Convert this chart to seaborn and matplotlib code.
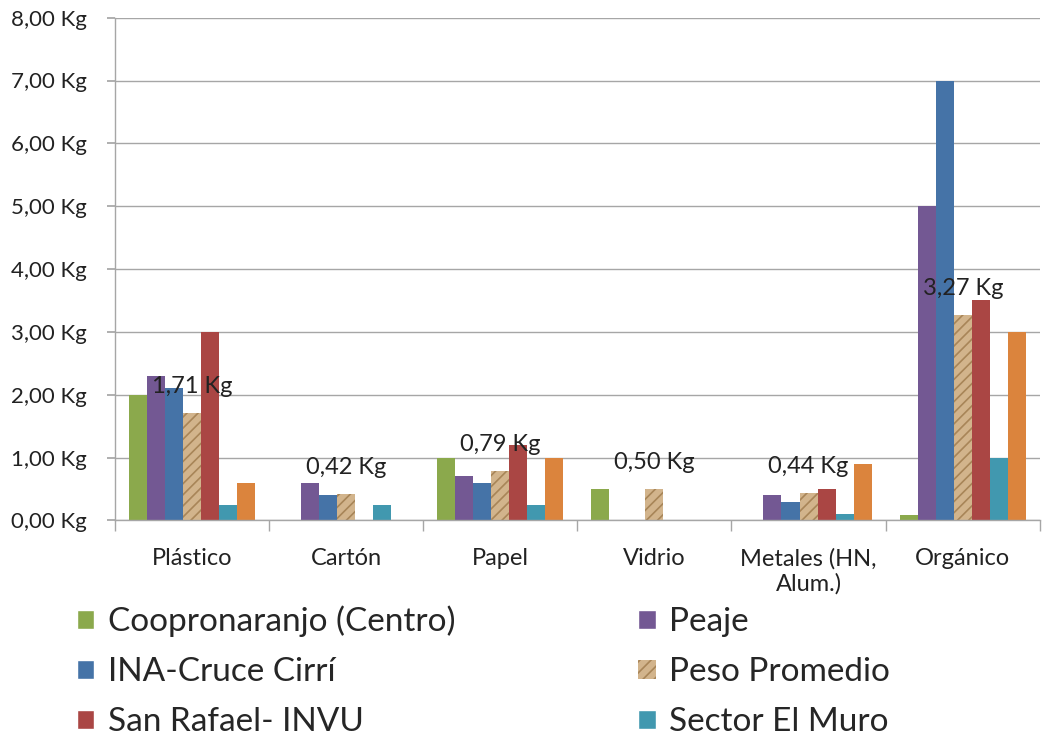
import matplotlib
matplotlib.use("Agg")
import matplotlib.pyplot as plt
import seaborn as sns
import pandas as pd
from matplotlib.patches import Patch
from matplotlib.ticker import FuncFormatter, FixedLocator

categories = ["Plástico", "Cartón", "Papel", "Vidrio", "Metales (HN,\nAlum.)", "Orgánico"]
series_names = ["Coopronaranjo (Centro)", "Peaje", "INA-Cruce Cirrí", "Peso Promedio",
                "San Rafael- INVU", "Sector El Muro", "Otro"]
coopronaranjo = [2.0, 0.0, 1.0, 0.5, 0.0, 0.08]
peaje = [2.3, 0.6, 0.7, 0.0, 0.4, 5.0]
ina_cruce = [2.1, 0.4, 0.6, 0.0, 0.3, 7.0]
peso_promedio = [1.71, 0.42, 0.79, 0.50, 0.44, 3.27]
san_rafael = [3.0, 0.0, 1.2, 0.0, 0.5, 3.5]
sector_muro = [0.25, 0.25, 0.25, 0.0, 0.1, 1.0]
otro = [0.6, 0.0, 1.0, 0.0, 0.9, 3.0]
colors = ["#8BA94C", "#735893", "#4573A7", "#D2B48C", "#AA4644", "#4198AF", "#DB843D"]

all_vals = [coopronaranjo, peaje, ina_cruce, peso_promedio, san_rafael, sector_muro, otro]
rows = []
for name, vals in zip(series_names, all_vals):
    for c, v in zip(categories, vals):
        rows.append({"cat": c, "serie": name, "val": v})
df = pd.DataFrame(rows)

sns.set_theme(style="white")
plt.rcParams["font.family"] = ["Lato", "DejaVu Sans"]
plt.rcParams["hatch.linewidth"] = 1.2

fig = plt.figure(figsize=(10.43, 7.36), dpi=100)
ax = fig.add_axes([0.110, 0.293, 0.887, 0.683])

sns.barplot(data=df, x="cat", y="val", hue="serie", order=categories,
            hue_order=series_names, palette=colors, width=0.82, gap=0,
            saturation=1, legend=False, ax=ax, errorbar=None, linewidth=0)

# texture-like look for Peso Promedio
for bar in ax.containers[3]:
    bar.set_hatch("///")
    bar.set_edgecolor("#A88558")
    bar.set_linewidth(0)

# data labels for Peso Promedio
for bar, v in zip(ax.containers[3], peso_promedio):
    x = bar.get_x() + bar.get_width() / 2
    ax.annotate(f"{v:.2f} Kg".replace(".", ","), (x, v), xytext=(0, 26),
                textcoords="offset pixels",
                ha="center", va="center", fontsize=17, color="#222222")

ax.set_ylim(0, 8)
ax.set_xlim(-0.5, len(categories) - 0.5)
ax.set_yticks(range(0, 9))
ax.yaxis.set_major_formatter(FuncFormatter(lambda v, p: f"{v:.2f} Kg".replace(".", ",")))
ax.yaxis.grid(True, color="#A6A6A6", linewidth=1)
ax.set_axisbelow(True)
ax.set_xlabel("")
ax.set_ylabel("")

for s in ["top", "right"]:
    ax.spines[s].set_visible(False)
for s in ["left", "bottom"]:
    ax.spines[s].set_color("#A6A6A6")
    ax.spines[s].set_linewidth(1)

ax.tick_params(axis="y", which="major", left=True, length=6, color="#A6A6A6",
               labelsize=16, labelcolor="#222222", pad=14)
ax.tick_params(axis="x", which="major", bottom=False, labelsize=17,
               labelcolor="#222222", pad=14)
ax.xaxis.set_minor_locator(FixedLocator([i - 0.5 for i in range(len(categories) + 1)]))
ax.tick_params(axis="x", which="minor", bottom=True, length=8, color="#A6A6A6")

leg_order = [0, 2, 4, 1, 3, 5]
handles = []
for i in leg_order:
    if i == 3:
        handles.append(Patch(facecolor=colors[i], edgecolor="#A88558", hatch="///",
                             linewidth=0, label=series_names[i]))
    else:
        handles.append(Patch(facecolor=colors[i], label=series_names[i]))
fig.legend(handles=handles, loc="upper left", bbox_to_anchor=(0.045, 0.218),
           ncol=2, frameon=False, fontsize=24, handlelength=0.52, handleheight=0.52,
           columnspacing=5.5, labelspacing=0.6, handletextpad=0.4)

fig.savefig("out.png", dpi=100)
